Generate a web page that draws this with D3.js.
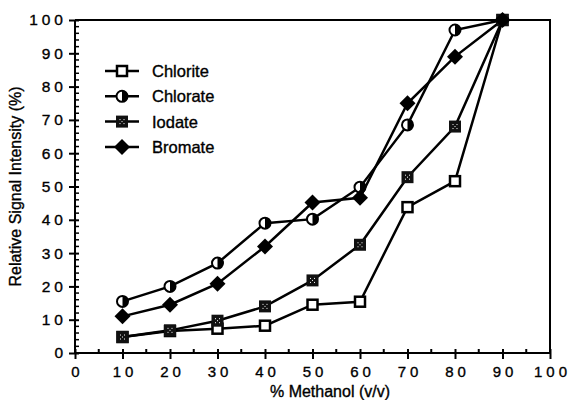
<!DOCTYPE html>
<html>
<head>
<meta charset="utf-8">
<script src="https://cdn.jsdelivr.net/npm/d3@7"></script>
<style>
  body { margin: 0; background: #fff; }
  svg { display: block; font-family: "Liberation Sans", Arial, sans-serif; }
  text { stroke: #000; stroke-width: 0.35px; }
</style>
</head>
<body>
<svg width="573" height="400"></svg>
<script>
const methanol = [10, 20, 30, 40, 50, 60, 70, 80, 90];
const chlorite = [4.8, 6.6, 7.3, 8.2, 14.5, 15.4, 43.8, 51.6, 100];
const chlorate = [15.5, 20, 27, 39, 40.2, 49.8, 68.5, 97, 100];
const iodate = [4.8, 6.8, 9.7, 14, 21.8, 32.5, 52.8, 68, 100];
const bromate = [11, 14.5, 20.8, 32, 45.2, 46.6, 75, 89, 100];

const seriesNames = ['Chlorite', 'Chlorate', 'Iodate', 'Bromate'];
const seriesValues = [chlorite, chlorate, iodate, bromate];
const xTicks = d3.range(0, 101, 10);
const yTicks = d3.range(0, 101, 10);

const svg = d3.select('svg');
const plotL = 75, plotR = 550, plotT = 20, plotB = 353;

const x = d3.scaleLinear().domain([0, 100]).range([plotL, plotR]);
const y = d3.scaleLinear().domain([0, 100]).range([plotB, plotT]);

// frame (top + right)
svg.append('path')
    .attr('d', `M${plotL},${plotT}H${plotR}V${plotB}`)
    .attr('fill', 'none')
    .attr('stroke', '#000')
    .attr('stroke-width', 2);

// x axis
const xAxis = svg.append('g')
    .attr('transform', `translate(0,${plotB})`)
    .call(d3.axisBottom(x).tickValues(xTicks).tickSize(6).tickPadding(7).tickFormat(d3.format('d')));
xAxis.select('.domain').attr('stroke-width', 2).attr('d', `M${plotL},0H${plotR}`);
xAxis.selectAll('.tick line').attr('y1', -4).attr('stroke-width', 2);
xAxis.selectAll('.tick text')
    .style('font-size', '15px')
    .style('letter-spacing', '4px')
    .attr('dx', '2px');

svg.append('g')
    .selectAll('line')
    .data(d3.range(5, 100, 10))
    .join('line')
    .attr('x1', d => x(d)).attr('x2', d => x(d))
    .attr('y1', plotB).attr('y2', plotB - 4)
    .attr('stroke', '#000').attr('stroke-width', 2);

// y axis
const yAxis = svg.append('g')
    .attr('transform', `translate(${plotL},0)`)
    .call(d3.axisLeft(y).tickValues(yTicks).tickSize(6).tickPadding(2).tickFormat(d3.format('d')));
yAxis.select('.domain').attr('stroke-width', 2).attr('d', `M0,${plotB}V${plotT}`);
yAxis.selectAll('.tick line').attr('x1', 4).attr('stroke-width', 2);
yAxis.selectAll('.tick text')
    .style('font-size', '15.5px')
    .style('letter-spacing', '4px');

svg.append('g')
    .selectAll('line')
    .data(d3.range(2, 100, 2).filter(d => d % 10 !== 0))
    .join('line')
    .attr('x1', plotL).attr('x2', plotL + 4)
    .attr('y1', d => y(d)).attr('y2', d => y(d))
    .attr('stroke', '#000').attr('stroke-width', 1.5);

svg.selectAll('.domain, .tick line').attr('stroke', '#000');
svg.selectAll('.tick text').attr('fill', '#000');

// titles
svg.append('text')
    .attr('x', 330)
    .attr('y', 397)
    .attr('text-anchor', 'middle')
    .style('font-size', '16px')
    .text('% Methanol (v/v)');

svg.append('text')
    .attr('transform', `translate(21,${(plotT + plotB) / 2}) rotate(-90)`)
    .attr('text-anchor', 'middle')
    .style('font-size', '16px')
    .text('Relative Signal Intensity (%)');

// markers
function drawMarker(g, name) {
    if (name === 'Chlorite') {
        g.append('rect').attr('x', -5).attr('y', -5).attr('width', 10).attr('height', 10)
            .attr('fill', '#fff').attr('stroke', '#000').attr('stroke-width', 2.5);
    } else if (name === 'Chlorate') {
        g.append('circle').attr('r', 5.5).attr('fill', '#fff').attr('stroke', '#000').attr('stroke-width', 2);
        g.append('path').attr('d', 'M0,-5.5A5.5,5.5 0 0 1 0,5.5Z').attr('fill', '#000');
    } else if (name === 'Iodate') {
        g.append('rect').attr('x', -6).attr('y', -6).attr('width', 12).attr('height', 12).attr('fill', '#111');
        [[-2.5, -2.5], [1.5, -2.5], [-2.5, 1.5], [1.5, 1.5], [-0.5, -0.5]].forEach(p => {
            g.append('rect').attr('x', p[0]).attr('y', p[1]).attr('width', 1).attr('height', 1).attr('fill', '#fff');
        });
    } else {
        g.append('path').attr('d', 'M0,-8L8,0L0,8L-8,0Z').attr('fill', '#000');
    }
}

const line = d3.line().x(d => x(d[0])).y(d => y(d[1]));

seriesNames.forEach((name, i) => {
    const pts = methanol.map((m, j) => [m, seriesValues[i][j]]);
    svg.append('path')
        .datum(pts)
        .attr('d', line)
        .attr('fill', 'none')
        .attr('stroke', '#000')
        .attr('stroke-width', 2.5);
});

seriesNames.forEach((name, i) => {
    const pts = methanol.map((m, j) => [m, seriesValues[i][j]]);
    svg.append('g')
        .selectAll('g')
        .data(pts)
        .join('g')
        .attr('transform', d => `translate(${x(d[0])},${y(d[1])})`)
        .each(function() { drawMarker(d3.select(this), name); });
});

// legend
const legend = svg.append('g').attr('transform', 'translate(105,71)');
seriesNames.forEach((name, i) => {
    const row = legend.append('g').attr('transform', `translate(0,${i * 25.3})`);
    row.append('line').attr('x1', 0).attr('x2', 34).attr('stroke', '#000').attr('stroke-width', 2.5);
    const m = row.append('g').attr('transform', 'translate(17,0)');
    drawMarker(m, name);
    row.append('text')
        .attr('x', 47)
        .attr('y', 6)
        .style('font-size', '16.5px')
        .text(name);
});
</script>
</body>
</html>
